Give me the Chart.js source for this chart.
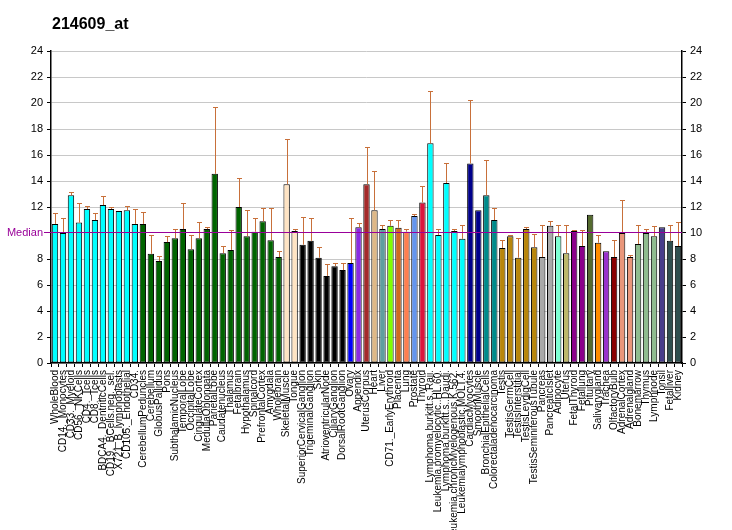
<!DOCTYPE html>
<html>
<head>
<meta charset="utf-8">
<script src="https://cdn.jsdelivr.net/npm/chart.js@4"></script>
<style>
  body { margin: 0; background: #fff; }
  #wrap { width: 732px; height: 530px; }
</style>
</head>
<body>
<div id="wrap"><canvas id="chart" width="732" height="530"></canvas></div>
<script>
// probe set
const title = "214609_at";

// tissues, in the order on the x axis
const tissues = [
  "WholeBlood","CD14._Monocytes","CD33._Myeloid","CD56._NKCells","CD4._Tcells","CD8._Tcells",
  "BDCA4._DentriticCells","CD19._BCells.neg._sel.","X721_B_lymphoblasts","CD105._Endothelial","CD34.",
  "CerebellumPeduncles","Cerebellum","GlobusPallidus","Pons","SubthalamicNucleus","TemporalLobe",
  "OccipitalLobe","CingulateCortex","MedullaOblongata","ParietalLobe","Caudatenucleus","Thalamus",
  "Fetalbrain","Hypothalamus","Spinalcord","PrefrontalCortex","Amygdala","Wholebrain",
  "SkeletalMuscle","Tongue","SuperiorCervicalGanglion","TrigeminalGanglion","Skin",
  "AtrioventricularNode","CiliaryGanglion","DorsalRootGanglion","Ovary","Appendix","UterusCorpus",
  "Heart","Liver","CD71._EarlyErythroid","Placenta","Lung","Prostate","Thyroid",
  "Lymphoma.burkitt.s..Raji.","Leukemia.promyelocytic..HL.60.","Lymphoma.burkitt.s..Daudi.",
  "Leukemia.chronicMyelogenous.K.562.","Leukemialymphoblastic.MOLT.4.","CardiacMyocytes",
  "SmoothMuscle","BronchialEpithelialCells","Colorectaladenocarcinoma","Testis","TestisGermCell",
  "TestisInterstitial","TestisLeydigCell","TestisSeminiferousTubule","Pancreas","PancreaticIslet",
  "Adipocyte","Uterus","FetalThyroid","Fetallung","Pituitary","Salivarygland","Trachea",
  "OlfactoryBulb","AdrenalCortex","Adrenalgland","Bonemarrow","Thymus","Lymphnode","Tonsil",
  "Fetalliver","Kidney"
];

// expression values
const values = [
  10.7,10.0,12.9,10.8,11.85,11.0,12.15,11.85,11.7,11.75,10.7,
  10.7,8.4,7.85,9.3,9.6,10.3,8.75,9.6,10.3,14.55,8.45,8.7,
  12.0,9.75,10.1,10.9,9.45,8.15,
  13.75,10.15,9.1,9.4,8.1,6.7,7.45,7.15,7.7,10.45,13.75,
  11.75,10.3,10.55,10.4,10.1,11.3,12.35,
  16.9,9.85,13.85,10.15,9.55,15.35,
  11.75,12.9,11.0,8.85,9.75,
  8.1,10.3,8.9,8.15,10.55,
  9.75,8.45,10.15,9.0,11.4,9.25,8.6,
  8.15,10.0,8.15,9.15,10.0,9.75,10.45,
  9.4,9.0
];

// top of the error bar for each tissue
const errTop = [
  11.55,11.15,13.15,12.3,12.1,11.55,12.85,12.0,11.8,12.1,11.85,
  11.6,9.85,8.25,9.75,10.3,12.3,9.85,10.85,10.45,19.7,9.0,10.25,
  14.2,11.8,11.15,11.9,11.9,8.6,
  17.2,10.3,11.2,11.15,8.9,7.6,7.7,7.7,11.15,10.75,16.6,
  14.75,10.6,11.0,11.0,10.3,11.45,13.6,
  20.95,10.3,15.4,10.3,10.6,20.2,
  11.75,15.6,11.9,9.45,9.85,
  9.6,10.45,9.9,10.6,10.9,
  10.6,10.6,10.25,10.25,11.45,9.85,8.6,
  9.45,12.55,8.3,10.6,10.3,10.55,10.45,
  10.6,10.85
];

const median = 10.08;
const yTicks = [0,2,4,6,8,10,12,14,16,18,20,22,24];

// bar colours, one run per tissue group
const colorRuns = [
  ["#00FFFF",11],["#006400",18],["#FFE4C4",2],["#000000",6],["#0000FF",1],["#8A2BE2",1],
  ["#A52A2A",1],["#DEB887",1],["#5F9EA0",1],["#7FFF00",1],["#D2691E",1],["#FF7F50",1],
  ["#6495ED",1],["#DC143C",1],["#00FFFF",5],["#00008B",2],["#008B8B",2],["#B8860B",5],
  ["#A9A9A9",2],["#7FFFD4",1],["#BDB76B",1],["#8B008B",2],["#556B2F",1],["#FF8C00",1],
  ["#9932CC",1],["#8B0000",1],["#E9967A",2],["#8FBC8F",3],["#483D8B",1],["#2F4F4F",2]
];
let barColors = [];
colorRuns.forEach(function(r){ for(let i=0;i<r[1];i++) barColors.push(r[0]); });

const errColor = "#C8703A";
const medColor = "#990099";

let extras = {
  id: "extras",
  afterDatasetsDraw: function(chart){
    let ctx = chart.ctx;
    let y = chart.scales.y;
    let meta = chart.getDatasetMeta(0);
    ctx.save();
    // error bars
    ctx.strokeStyle = errColor;
    ctx.lineWidth = 1;
    for(let i=0;i<values.length;i++){
      let x = Math.round(meta.data[i].x) + 0.5;
      let y0 = y.getPixelForValue(values[i]);
      let y1 = Math.round(y.getPixelForValue(errTop[i])) + 0.5;
      if(y1 >= y0 - 0.5) continue;
      ctx.beginPath();
      ctx.moveTo(x, y0);
      ctx.lineTo(x, y1);
      ctx.moveTo(x - 2.5, y1);
      ctx.lineTo(x + 2.5, y1);
      ctx.stroke();
    }
    // median line
    let ym = Math.round(y.getPixelForValue(median)) + 0.5;
    ctx.strokeStyle = medColor;
    ctx.lineWidth = 1;
    ctx.beginPath();
    ctx.moveTo(44, ym);
    ctx.lineTo(chart.chartArea.right, ym);
    ctx.stroke();
    ctx.fillStyle = medColor;
    ctx.font = "11px 'Liberation Sans', Arial, sans-serif";
    ctx.textAlign = "right";
    ctx.textBaseline = "middle";
    ctx.fillText("Median", 43, ym);
    // title
    ctx.fillStyle = "#000";
    ctx.font = "bold 16px 'Liberation Sans', Arial, sans-serif";
    ctx.textAlign = "left";
    ctx.textBaseline = "alphabetic";
    ctx.fillText(title, 52, 29);
    ctx.restore();
  }
};

let tickFont = { family: "'Liberation Sans', Arial, sans-serif", size: 11 };

let ctx = document.getElementById("chart");
let chart = new Chart(ctx, {
  type: "bar",
  data: {
    labels: tissues,
    datasets: [{
      data: values,
      backgroundColor: barColors,
      borderColor: "#000",
      borderWidth: 1,
      borderSkipped: false,
      barPercentage: 0.8,
      categoryPercentage: 1.0
    }]
  },
  options: {
    responsive: false,
    animation: false,
    layout: { padding: { top: 51, left: 0, right: 0, bottom: 0 } },
    plugins: { legend: { display: false }, tooltip: { enabled: false } },
    scales: {
      x: {
        grid: { display: true, drawOnChartArea: false, tickLength: 4, tickColor: "#000" },
        border: { color: "#000", width: 1.5 },
        ticks: {
          autoSkip: false, maxRotation: 90, minRotation: 90, padding: 3,
          color: "#000", font: { family: "'Liberation Sans', Arial, sans-serif", size: 10 }
        },
        afterFit: function(s){ s.height = 167; }
      },
      y: {
        position: "left",
        min: 0, max: 24,
        afterBuildTicks: function(s){ s.ticks = yTicks.map(function(v){ return { value: v }; }); },
        grid: { color: "#C8C8C8", tickColor: "#000", tickLength: 4 },
        border: { color: "#000", width: 1.5 },
        ticks: {
          color: "#000", font: tickFont, padding: 4,
          // the median label takes the place of 10 on the left
          callback: function(v){ return v === 10 ? "" : v; }
        },
        afterFit: function(s){ s.width = 51; }
      },
      y2: {
        position: "right",
        min: 0, max: 24,
        afterBuildTicks: function(s){ s.ticks = yTicks.map(function(v){ return { value: v }; }); },
        grid: { drawOnChartArea: false, tickColor: "#000", tickLength: 4 },
        border: { color: "#000", width: 1.5 },
        ticks: { color: "#000", font: tickFont, padding: 4 },
        afterFit: function(s){ s.width = 50; }
      }
    }
  },
  plugins: [extras]
});
</script>
</body>
</html>
